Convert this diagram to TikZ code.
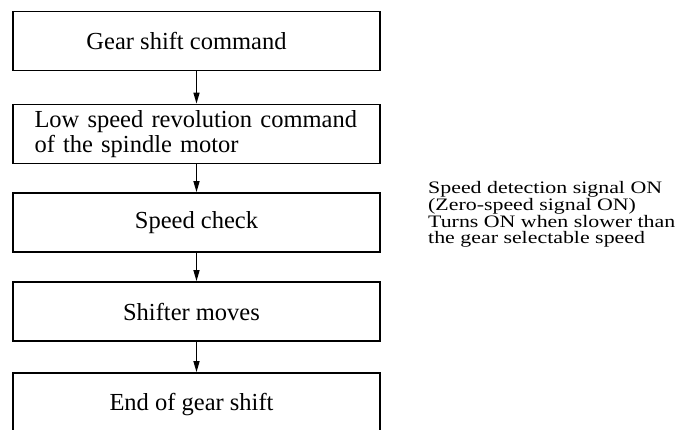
\documentclass[tikz,border=0pt]{standalone}
\usepackage{fontspec}
\setmainfont{Liberation Serif}
\newfontfamily\notefont[FakeStretch=1.25]{Liberation Serif}
\usepackage[dvipsnames,svgnames,x11names]{xcolor}
\usepackage{tikz}
\usetikzlibrary{arrows.meta}

\tikzset{
  stepbox/.style={rectangle,draw=black,text=black,line width=1.7pt,minimum width=367pt,minimum height=59pt,inner sep=0pt,font=\fontsize{24.5}{25.5}\selectfont,align=center},
  flow/.style={->,draw=black,line width=1.3pt}
}

\begin{document}
\begin{tikzpicture}[x=1pt,y=-1pt,>={Triangle[length=11pt,width=6pt]}]
\useasboundingbox (0,0) rectangle (676,430);
\clip (0,0) rectangle (676,430);
\node[stepbox] (cmd) at (196.5,41) {Gear shift command\hspace*{20pt}};
\node[stepbox,align=left,text width=324pt] (low) at (196.5,134) {Low speed revolution command\\of the spindle motor};
\node[stepbox] (check) at (196.5,222.5) {Speed check};
\node[stepbox] (shifter) at (196.5,311.5) {Shifter moves\hspace*{10pt}};
\node[stepbox,minimum height=64pt] (done) at (196.5,405) {End of gear shift\hspace*{10pt}};
% side note next to the speed check
\node[anchor=west,inner sep=0pt,align=left,font=\notefont\fontsize{17.5}{15.8}\selectfont] (note) at (428,214) {Speed detection signal ON\\(Zero-speed signal ON)\\Turns ON when slower than\\the gear selectable speed};
\draw[flow] (cmd) -- (low);
\draw[flow] (low) -- (check);
\draw[flow] (check) -- (shifter);
\draw[flow] (shifter) -- (done);
\end{tikzpicture}
\end{document}
